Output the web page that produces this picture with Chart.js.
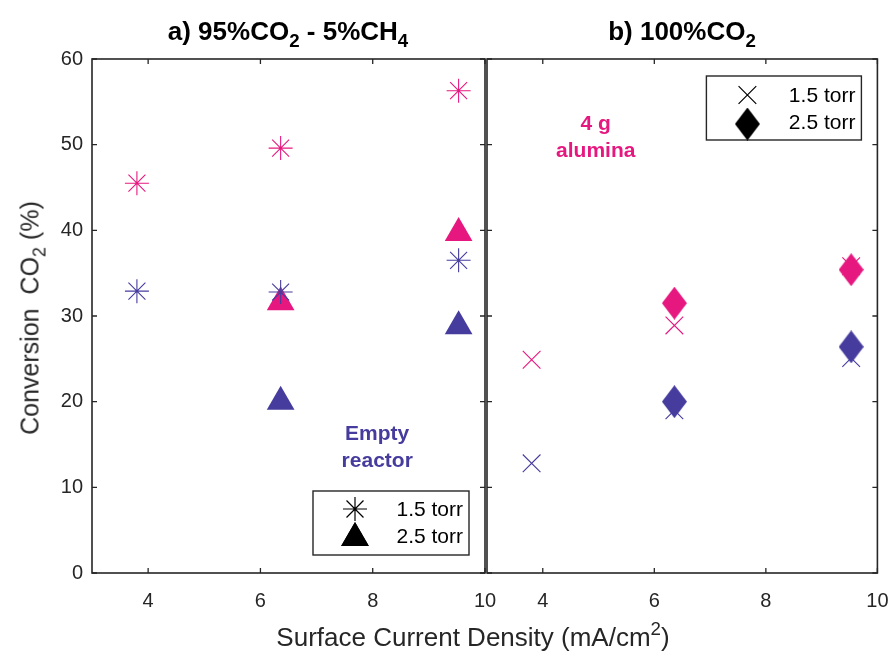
<!DOCTYPE html>
<html><head><meta charset="utf-8">
<script src="https://cdn.jsdelivr.net/npm/chart.js@4.4.1/dist/chart.umd.min.js"></script>
<style>
html,body{margin:0;padding:0;background:#fff;}
#wrap{position:relative;width:891px;height:655px;overflow:hidden;font-family:"Liberation Sans",Arial,sans-serif;color:#262626;}
canvas{position:absolute;top:0;left:0;}
.t{position:absolute;white-space:nowrap;line-height:1;}
.t sub{font-size:72%;vertical-align:-0.4em;line-height:0;}
.t sup{font-size:72%;vertical-align:0.6em;line-height:0;}
</style></head><body>
<div id="wrap">
<canvas id="cL" width="891" height="655"></canvas>
<canvas id="cR" width="891" height="655"></canvas>
<div class="t" id="titleL" style="font-weight:bold;font-size:26px;color:#000;left:288px;top:18px;transform:translateX(-50%);">a) 95%CO<sub>2</sub> - 5%CH<sub>4</sub></div>
<div class="t" id="titleR" style="font-weight:bold;font-size:26px;color:#000;left:682px;top:18px;transform:translateX(-50%);">b) 100%CO<sub>2</sub></div>
<div class="t" id="xlab" style="font-size:26px;left:473px;top:624px;transform:translateX(-50%);">Surface Current Density (mA/cm<sup>2</sup>)</div>
<div class="t" id="ylab" style="font-size:25px;left:30px;top:318px;transform:translate(-50%,-50%) rotate(-90deg);">Conversion &nbsp;CO<sub>2</sub> (%)</div>
</div>
<script>
// ---------- data ----------
const currentDensity = [3.8, 6.36, 9.53];          // x values, 1.5 torr
const currentDensityHigh = [6.36, 9.53];           // x values, 2.5 torr
// panel a) 95%CO2 - 5%CH4
const a_alumina_15 = [45.5, 49.6, 56.3];
const a_empty_15   = [32.9, 32.8, 36.5];
const a_alumina_25 = [31.6, 39.7];
const a_empty_25   = [20.0, 28.8];
// panel b) 100%CO2
const b_alumina_15 = [24.9, 28.9, 35.8];
const b_empty_15   = [12.8, 19.0, 25.1];
const b_alumina_25 = [31.5, 35.4];
const b_empty_25   = [20.0, 26.4];
// axes
const xTicks = [4, 6, 8, 10];
const yTicks = [0, 10, 20, 30, 40, 50, 60];
const legendLabels = ['1.5 torr', '2.5 torr'];

// ---------- styling ----------
const PINK = '#e6187f';
const BLUE = '#463c9e';
const AX = '#262626';
const FONT = '"Liberation Sans", Arial, sans-serif';

function makeDiamond(color, w, h) {
  const c = document.createElement('canvas');
  c.width = w; c.height = h;
  const g = c.getContext('2d');
  g.fillStyle = color;
  g.beginPath();
  g.moveTo(w / 2, 0); g.lineTo(w, h / 2); g.lineTo(w / 2, h); g.lineTo(0, h / 2);
  g.closePath(); g.fill();
  return c;
}
const diaPink = makeDiamond(PINK, 25, 33);
const diaBlue = makeDiamond(BLUE, 25, 33);
const diaBlack = makeDiamond('#000', 25, 33);

const pts = (xs, ys) => ys.map((y, i) => ({x: xs[i], y}));

function drawMarker(ctx, style, x, y, r, color, lw) {
  ctx.save();
  ctx.strokeStyle = color; ctx.fillStyle = color; ctx.lineWidth = lw;
  if (style instanceof HTMLCanvasElement) {
    ctx.drawImage(style, x - style.width / 2, y - style.height / 2);
  } else if (Chart.helpers && Chart.helpers.drawPoint) {
    Chart.helpers.drawPoint(ctx, {pointStyle: style, radius: r, borderWidth: lw, rotation: 0}, x, y);
    if (style === 'triangle') ctx.fill();
  }
  ctx.restore();
}

const framePlugin = {
  id: 'frame',
  afterDatasetsDraw(chart, args, opts) {
    const {ctx, chartArea: a} = chart;
    const xs = chart.scales.x, ys = chart.scales.y;
    ctx.save();
    ctx.strokeStyle = AX; ctx.lineWidth = 1.6;
    ctx.strokeRect(a.left, a.top, a.right - a.left, a.bottom - a.top);
    ctx.lineWidth = 1.3;
    ctx.beginPath();
    xTicks.forEach(v => {
      const px = xs.getPixelForValue(v);
      ctx.moveTo(px, a.bottom); ctx.lineTo(px, a.bottom - 5);
      ctx.moveTo(px, a.top); ctx.lineTo(px, a.top + 5);
    });
    yTicks.forEach(v => {
      const py = ys.getPixelForValue(v);
      ctx.moveTo(a.left, py); ctx.lineTo(a.left + 5, py);
      ctx.moveTo(a.right, py); ctx.lineTo(a.right - 5, py);
    });
    ctx.stroke();
    // annotations
    (opts.notes || []).forEach(n => {
      ctx.fillStyle = n.color;
      ctx.font = 'bold 21px ' + FONT;
      ctx.textAlign = 'center'; ctx.textBaseline = 'middle';
      n.lines.forEach((t, i) => ctx.fillText(t, xs.getPixelForValue(n.x), ys.getPixelForValue(n.y) + i * 27));
    });
    // legend box
    const L = opts.legend;
    if (L) {
      const bx = L.fromRight ? a.right - L.dx - L.w : a.left + L.dx;
      const by = L.fromBottom ? a.bottom - L.dy - L.h : a.top + L.dy;
      ctx.fillStyle = '#fff';
      ctx.fillRect(bx, by, L.w, L.h);
      ctx.strokeStyle = AX; ctx.lineWidth = 1.4;
      ctx.strokeRect(bx, by, L.w, L.h);
      ctx.font = '21px ' + FONT;
      ctx.textAlign = 'right'; ctx.textBaseline = 'middle';
      L.items.forEach((it, i) => {
        const cy = by + L.firstRow + i * L.rowGap;
        drawMarker(ctx, it.style, bx + L.markX, cy + (it.dy || 0), it.r, '#000', it.lw);
        ctx.fillStyle = '#000';
        ctx.fillText(legendLabels[i], bx + L.w - 6, cy + 1);
      });
    }
    ctx.restore();
  }
};

function baseOptions(isLeft, pluginOpts) {
  return {
    responsive: false, maintainAspectRatio: false, animation: false, devicePixelRatio: 1,
    layout: {padding: isLeft ? {left: 0, top: 59, right: 406, bottom: 0} : {left: 487, top: 59, right: 12, bottom: 0}},
    plugins: {legend: {display: false}, tooltip: {enabled: false}, frame: pluginOpts},
    scales: {
      x: {
        type: 'linear', min: 3, max: 10,
        grid: {display: false, drawTicks: true, tickLength: 16}, border: {display: false},
        afterBuildTicks: s => { s.ticks = xTicks.map(v => ({value: v})); },
        afterFit: s => { s.height = 82; },
        ticks: {padding: 0, color: AX, font: {family: FONT, size: 20}, maxRotation: 0, autoSkip: false}
      },
      y: {
        type: 'linear', min: 0, max: 60, display: isLeft,
        grid: {display: false, drawTicks: true, tickLength: 9}, border: {display: false},
        afterBuildTicks: s => { s.ticks = yTicks.map(v => ({value: v})); },
        afterFit: s => { s.width = isLeft ? 92 : 0; },
        ticks: {padding: 0, color: AX, font: {family: FONT, size: 20}}
      }
    }
  };
}

new Chart(document.getElementById('cL'), {
  type: 'scatter',
  data: {datasets: [
    {data: pts(currentDensity, a_alumina_15), pointStyle: 'star', pointRadius: 12, borderColor: PINK, backgroundColor: PINK, borderWidth: 1.1, order: 1},
    {data: pts(currentDensity, a_empty_15), pointStyle: 'star', pointRadius: 12, borderColor: BLUE, backgroundColor: BLUE, borderWidth: 1.1, order: 0},
    {data: pts(currentDensityHigh, a_alumina_25), pointStyle: 'triangle', pointRadius: 16, borderColor: PINK, backgroundColor: PINK, borderWidth: 0, order: 3},
    {data: pts(currentDensityHigh, a_empty_25), pointStyle: 'triangle', pointRadius: 16, borderColor: BLUE, backgroundColor: BLUE, borderWidth: 0, order: 2}
  ]},
  options: baseOptions(true, {
    notes: [{x: 8.08, y: 16.2, lines: ['Empty', 'reactor'], color: BLUE}],
    legend: {fromRight: true, fromBottom: true, dx: 16, dy: 18, w: 156, h: 64, markX: 42, firstRow: 18, rowGap: 27,
      items: [{style: 'star', r: 12, lw: 1.2}, {style: 'triangle', r: 16, lw: 0, dy: 2}]}
  }),
  plugins: [framePlugin]
});

new Chart(document.getElementById('cR'), {
  type: 'scatter',
  data: {datasets: [
    {data: pts(currentDensity, b_alumina_15), pointStyle: 'crossRot', pointRadius: 12.5, borderColor: PINK, backgroundColor: PINK, borderWidth: 1.1, order: 3},
    {data: pts(currentDensity, b_empty_15), pointStyle: 'crossRot', pointRadius: 12.5, borderColor: BLUE, backgroundColor: BLUE, borderWidth: 1.1, order: 2},
    {data: pts(currentDensityHigh, b_alumina_25), pointStyle: diaPink, pointRadius: 12, order: 1},
    {data: pts(currentDensityHigh, b_empty_25), pointStyle: diaBlue, pointRadius: 12, order: 0}
  ]},
  options: baseOptions(false, {
    notes: [{x: 4.95, y: 52.4, lines: ['4 g', 'alumina'], color: PINK}],
    legend: {fromRight: true, fromBottom: false, dx: 16, dy: 17, w: 155, h: 64, markX: 41, firstRow: 19, rowGap: 27,
      items: [{style: 'crossRot', r: 12.5, lw: 1.2}, {style: diaBlack, r: 12, lw: 0, dy: 2}]}
  }),
  plugins: [framePlugin]
});
</script>
</body></html>
